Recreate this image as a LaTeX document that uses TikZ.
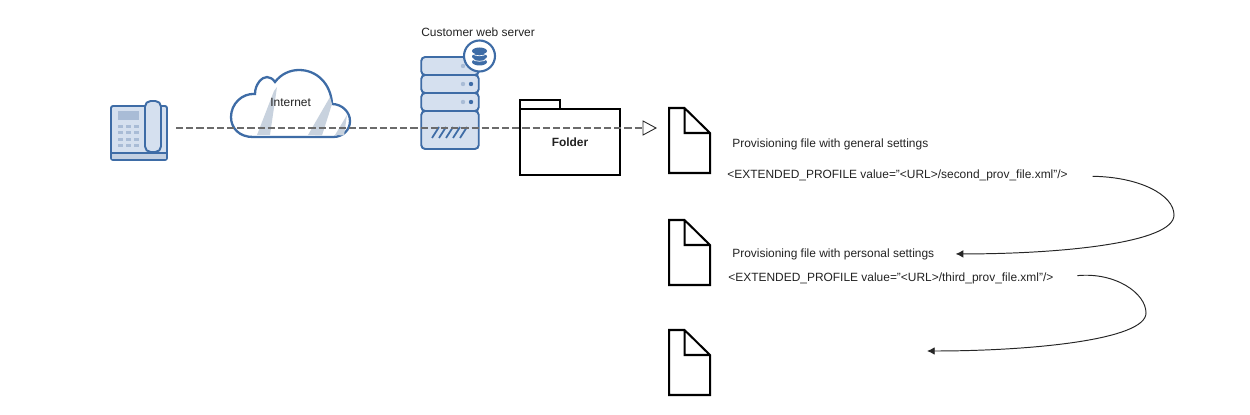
\documentclass[tikz,border=0pt]{standalone}
\usepackage{fontspec}
\setmainfont{Liberation Sans}
\usetikzlibrary{arrows.meta}
\definecolor{iconline}{HTML}{3E6CA6}
\definecolor{iconfill}{HTML}{D5E0EF}
\definecolor{iconkey}{HTML}{A9BCD6}
\definecolor{inktext}{HTML}{222222}
\begin{document}
\begin{tikzpicture}[
    x=0.02cm, y=-0.02cm,
    icon/.style={draw=iconline, fill=iconfill, line width=1.1pt, rounded corners=1.2pt, inner sep=0pt},
    rack/.style={icon, minimum width=1.15cm, rounded corners=2.2pt},
    stripe/.style={fill=iconfill!85!gray, draw=none},
    filebox/.style={minimum width=0.82cm, minimum height=1.3cm, inner sep=0pt},
    outline/.style={draw=black, line width=1.15pt, fill=white},
    caption/.style={anchor=base west, inner sep=0pt, font=\fontsize{6.8}{8}\selectfont, text=inktext},
    dashline/.style={draw=black!58, line width=1.05pt, dash pattern=on 4.1pt off 1.7pt},
    curvearrow/.style={-{Latex[length=4.4pt, width=4.4pt]}, draw=black!85, line width=0.55pt}
]
\useasboundingbox (0,0) rectangle (1250,415);

% Phone
\node[icon, minimum width=1.12cm, minimum height=1.08cm] (phone) at (139,133) {};
\fill[iconkey!70] (112,153) rectangle (166,159);
\draw[iconline, line width=1.1pt] (111,153) -- (167,153);
\fill[iconkey] (118,111) rectangle (139,120);
\foreach \py in {125,131.5,138,144}
  \foreach \px in {118,126,134}
    \fill[iconkey] (\px,\py) rectangle ++(5,3);
\draw[icon, rounded corners=3.2pt] (145,101) rectangle (161,152);

% Cloud
\draw[line width=1.3pt, draw=iconline, fill=white]
  (253,137) .. controls (239,137) and (231,128) .. (231,117)
  .. controls (231,104) and (242,93) .. (255,94)
  .. controls (255,84) and (262,77) .. (267,77)
  .. controls (270,77) and (273,79) .. (275,82)
  .. controls (281,74) and (290,70) .. (299,70)
  .. controls (317,70) and (331,84) .. (332,104)
  .. controls (342,104) and (350,112) .. (350,121)
  .. controls (350,130) and (343,137) .. (333,137) -- cycle;
\fill[stripe] (257,135) -- (270,135) -- (277,87) -- (274,91) -- cycle;
\fill[stripe] (308,135) -- (322,135.500) -- (332,104) -- (330,97) -- cycle;
\fill[stripe] (335,135) -- (344,135.500) -- (347,115) -- cycle;

% Web server
\node[rack, minimum height=0.36cm] (unitone) at (450,66) {};
\node[rack, minimum height=0.36cm] (unittwo) at (450,84) {};
\node[rack, minimum height=0.36cm] (unitthree) at (450,102) {};
\node[rack, minimum height=0.76cm] (server) at (450,130) {};
\foreach \py in {66,84,102}
  \fill[iconkey] (463,\py) circle (2.2);
\foreach \py in {84,102}
  \fill[iconline] (471,\py) circle (2.2);
\foreach \px in {432,439,446,453,460}
  \draw[iconline, line width=1pt] (\px,138) -- ++(7,-11);
\node[circle, draw=iconline, fill=white, line width=1.2pt, minimum size=0.62cm, inner sep=0pt] (badge) at (479.500,56) {};
\foreach \py in {62,56.500,51}
  \fill[iconline] (479.500,\py) ellipse (7.500 and 3.500);
\foreach \py in {59,53.500}
  \draw[white, line width=0.4pt] (472,\py) .. controls (475,\py+3) and (484,\py+3) .. (487,\py);
\node[caption] (servername) at (421,37) {Customer web server};

% Folder
\draw[outline] (520,100) rectangle (560,109);
\node[outline, minimum width=2cm, minimum height=1.32cm, inner sep=0pt,
      font=\fontsize{6.8}{8}\selectfont\bfseries, text=inktext] (folder) at (570,142) {Folder};

% Provisioning files
\foreach \name/\ytop in {fileone/108, filetwo/220, filethree/330} {
  \node[filebox] (\name) at (689.500,\ytop+33) {};
  \draw[outline, fill=none, line join=miter] (669,\ytop) -- (684.500,\ytop) -- (710,\ytop+25)
    -- (710,\ytop+65) -- (669,\ytop+65) -- cycle
    (684.500,\ytop) -- (684.500,\ytop+25) -- (710,\ytop+25);
}

% Texts
\node[caption] (internet) at (270,107) {Internet};
\node[caption] (general) at (732,148) {Provisioning file with general settings};
\node[caption] (extone) at (727,179) {<EXTENDED\_PROFILE value="<URL>/second\_prov\_file.xml"/>};
\node[caption] (personal) at (732,257) {Provisioning file with personal settings};
\node[caption] (exttwo) at (728,281) {<EXTENDED\_PROFILE value="<URL>/third\_prov\_file.xml"/>};

% Connections
\coordinate (linestart) at (176,128);
\coordinate (lineend) at (656,128);
\draw[dashline] (linestart) -- (643,128);
\draw[draw=black!85, line width=0.5pt, fill=white] (643,121) -- (lineend) -- (643,135) -- cycle;
\draw[curvearrow, shorten <=14pt, shorten >=12pt] (extone.east) .. controls (1140,177) and (1174,195) .. (1174,215)
  .. controls (1174,243) and (1060,254) .. (personal.east);
\coordinate (lastarrow) at (927,351);
\draw[curvearrow, shorten <=13.500pt] (exttwo.east) .. controls (1115,272) and (1146,293) .. (1146,313)
  .. controls (1146,340) and (1030,351) .. (lastarrow);

\end{tikzpicture}
\end{document}
